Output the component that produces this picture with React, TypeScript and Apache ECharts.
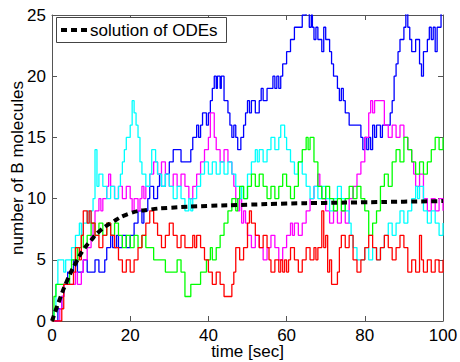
import React, { useEffect, useRef } from "react";
import * as echarts from "echarts";

// Stochastic trajectories: [time, value] change points (value holds until next point)
const blueRun: number[][] = [
  [0,0],[1.5,1],[2.5,2],[3,3],[4,4],[5.5,5],[6.5,4],[8,5],[9,4],[11,5],[12,4],[13.5,5],[14,6],[15,7],[15.5,6],[16.5,7],[17,6],[18,7],[19,6],[20,7],[21,8],[22,9],[23,8],[23.5,9],[24.5,10],[25,11],[26,10],[27,11],[27.5,12],[28,11],[29,12],[30,13],[31,14],[33,13],[35.5,14],[36,15],[37,16],[37.5,15],[38,16],[38.5,17],[39.5,16],[40,17],[40.5,18],[41,19],[41.5,20],[42,19],[42.3,20],[43,19],[43.3,20],[44,18],[45,17],[45.5,16],[46,15],[46.5,16],[47,15],[47.5,14],[48.3,15],[49,16],[49.5,17],[50,18],[50.5,17],[51,18],[52,17],[53,18],[53.5,19],[54,18],[55,19],[56.5,20],[57,19],[57.5,20],[58,19],[58.5,20],[59,21],[60,22],[61,23],[62,24],[63,24],[64,25],[65,26],[65.8,24],[66.3,25],[66.6,24],[67,23],[67.5,24],[68,23],[69,22],[69.5,24],[70,23],[71,22],[71.5,21],[72,20],[73,19],[73.5,18],[74,19],[74.5,18],[75,17],[76,16],[77.5,16],[78.5,16],[79,15],[79.5,14],[80,15],[80.5,14],[81,15],[81.5,14],[82,16],[82.5,15],[83,16],[84,15],[84.5,16],[86.5,17],[87,18],[87.5,20],[88,21],[88.5,22],[89,23],[90,24],[90.5,26],[91,24],[91.5,23],[92,22],[93,23],[94,21],[94.5,20],[95,22],[96,23],[96.5,24],[97,23],[97.5,24],[98,22],[98.5,24],[99.5,26],[100,26]
];
const magentaRun: number[][] = [
  [0,0],[2,1],[2.5,2],[3,3],[5,3],[6,4],[6.5,3],[7.5,4],[8,5],[9,6],[10,7],[10.5,8],[11,9],[12,10],[12.5,9],[13,10],[14,11],[14.5,12],[15,11],[16,10],[17,11],[18,10],[19,11],[20,10],[20.5,9],[21,10],[22,9],[22.5,10],[23,11],[23.5,10],[24,11],[25,12],[26,13],[27,12],[28,13],[29,12],[30,11],[31,12],[32,11],[33,12],[34,11],[35,10],[36,11],[37,12],[38,13],[39,14],[40,15],[40.5,17],[41.5,15],[42,14],[43,13],[44,14],[45,13],[46,12],[46.5,11],[47,10],[47.5,9],[48,10],[48.5,8],[49,9],[49.5,8],[50,7],[51,6],[52,7],[53,6],[54,5],[55,6],[56,7],[57,6],[58,5],[59,6],[60,7],[61,8],[61.5,7],[62,8],[63,7],[64,8],[65,9],[66,10],[67,11],[68,12],[68.5,11],[69,10],[70,9],[71,8],[72,9],[73,8],[74,9],[75,8],[76,10],[77,11],[78,12],[79,13],[80,15],[81,17],[81.5,18],[82,17],[82.5,18],[85,16],[86,15],[87,16],[88,15],[89,16],[90,15],[91,14],[92,13],[92.5,12],[93,11],[94,12],[95,10],[96,9],[97,10],[98,9],[99,10],[100,9]
];
const cyanRun: number[][] = [
  [0,0],[0.5,1],[1,3],[1.5,5],[3,4],[3.5,5],[5,6],[6,7],[7,8],[7.5,7],[8,8],[9,9],[9.5,8],[10,9],[10.5,10],[11,14],[11.5,11],[12,12],[13,11],[14,10],[15,11],[16,10],[17,11],[17.5,12],[18,13],[18.5,14],[19,15],[20,16],[20.5,18],[21,17],[21.5,16],[22,15],[22.5,13],[23,12],[24,11],[25,12],[25.5,14],[26.5,13],[27,12],[28,11],[29,12],[30,11],[31,10],[32,11],[33,10],[34,9],[35,10],[35.5,9],[36,10],[37,11],[38,12],[39,13],[40,12],[41,13],[42,12],[43,13],[44,12],[45,13],[46,12],[47,11],[48,10],[48.5,11],[49,10],[50,12],[51,13],[52,14],[52.5,13],[53,14],[54,13],[55,14],[56,15],[57,14],[58,15],[58.5,16],[59.5,15],[60,14],[61,13],[62,12],[63,13],[64,12],[65,11],[66,10],[67,11],[68,10],[69,11],[70,10],[71,9],[72,10],[73,11],[74,10],[75,9],[76,8],[76.5,7],[77,6],[78,5],[80,6],[81,5],[82,6],[83,5],[84,6],[85,7],[86,8],[87,7],[88,8],[89,9],[90,8],[91,9],[92,10],[93,11],[93.5,10],[94,11],[95,9],[96,8],[97,9],[98,8],[99,7],[100,8]
];
const greenRun: number[][] = [
  [0,0],[0.5,2],[1,3],[4,3],[4.5,4],[5,5],[6,6],[6.5,5],[7,6],[7.5,7],[8,6],[9,7],[10,8],[11,7],[12,8],[13,7],[14,8],[15,7],[16,8],[17,7],[18,6],[19,7],[20,6],[21,7],[22,6],[23,7],[24,6],[25,6],[26,5],[29,4],[32,5],[33,4],[34,2],[35.5,3],[38,4],[39.5,5],[40.5,6],[41,5],[42,6],[43,7],[44,8],[45,9],[46,10],[47,9],[47.5,10],[48,11],[49,10],[50,11],[51,12],[52,11],[53,12],[54,11],[55,10],[56,11],[57,10],[58,11],[59,12],[60,11],[61,10],[62,11],[63,13],[64,14],[65,15],[65.5,14],[66,15],[67,13],[68,11],[69,10],[70,11],[71,10],[72,9],[73,10],[74,9],[75,10],[76,11],[77,10],[78,11],[79,10],[80,9],[81,7],[82,8],[83,9],[84,11],[85,12],[86,11],[87,13],[88,14],[89,13],[90,15],[91,14],[92,13],[93,12],[94,13],[95,12],[96,13],[97,14],[98,15],[99,14],[100,15]
];
const redRun: number[][] = [
  [0,0],[2.5,1],[3,3],[5,3],[5.5,4],[6,6],[7,5],[7.5,7],[8,9],[9,8],[9.5,9],[10,8],[11,7],[12,6],[13,7],[14,8],[15,7],[16,6],[17,5],[18,4],[19,5],[20,4],[21,5],[22,6],[23,7],[24,8],[25,9],[26,8],[27,7],[28,6],[29,7],[30,8],[31,7],[32,6],[33,7],[34,6],[36,7],[36.5,6],[37,7],[38,6],[39,5],[40,4],[41,3],[42,4],[43,3],[44,2],[46,3],[46.5,4],[47,6],[48,5],[49,6],[50,8],[50.5,9],[51,8],[52,7],[53,6],[54,7],[55,6],[55.5,5],[56,4],[57,5],[58,4],[58.5,5],[59,4],[59.5,5],[60,4],[60.5,5],[61,6],[62,5],[63,4],[64,5],[65,6],[66,5],[67,6],[67.5,5],[68,6],[69,9],[69.5,6],[70,7],[70.5,4],[71,5],[71.5,3],[73,4],[73.5,6],[74,7],[75,6],[76,7],[77,5],[78,4],[79,5],[80,6],[81,7],[82,6],[83,5],[84,6],[85,7],[86,6],[87,5],[88,6],[89,7],[90,6],[91,4],[92,5],[93,4],[94,7],[94.5,5],[95,4],[96,5],[97,4],[98,5],[99,4],[100,5]
];
// Deterministic solution
const odeTimes = [0, 2, 4, 6, 8, 10, 12, 15, 20, 25, 30, 40, 50, 60, 70, 80, 90, 100];
const odeValues = [0, 1.8, 3.4, 4.7, 5.8, 6.6, 7.3, 8.0, 8.8, 9.1, 9.25, 9.4, 9.5, 9.6, 9.65, 9.7, 9.75, 9.8];
const odeLabel = "solution of ODEs";

const xTicks = [0, 20, 40, 60, 80, 100];
const yTicks = [0, 5, 10, 15, 20, 25];

const FONT = "Liberation Sans";
const FS = 17;

export default function App() {
  const ref = useRef<HTMLDivElement>(null);
  useEffect(() => {
    if (!ref.current) return;
    const chart = echarts.init(ref.current, undefined, { renderer: "svg" });
    const axisColor = "#555";
    const xBase = {
      type: "value" as const,
      min: xTicks[0],
      max: xTicks[xTicks.length - 1],
      interval: 20,
      splitLine: { show: false },
      axisLine: { show: true, onZero: false, lineStyle: { color: axisColor, width: 1 } },
      axisTick: { show: true, inside: true, length: 5, lineStyle: { color: axisColor } },
    };
    const yBase = {
      type: "value" as const,
      min: yTicks[0],
      max: yTicks[yTicks.length - 1],
      interval: 5,
      splitLine: { show: false },
      axisLine: { show: true, onZero: false, lineStyle: { color: axisColor, width: 1 } },
      axisTick: { show: true, inside: true, length: 5, lineStyle: { color: axisColor } },
    };
    const stepSeries = (data: number[][], color: string, z: number) => ({
      type: "line" as const,
      data,
      step: "end" as const,
      showSymbol: false,
      symbol: "none",
      lineStyle: { color, width: 1.3 },
      itemStyle: { color },
      z,
      silent: true,
    });
    chart.setOption({
      animation: false,
      backgroundColor: "#fff",
      textStyle: { fontFamily: FONT },
      grid: { left: 52, right: 17, top: 15, bottom: 41, containLabel: false, outerBoundsMode: "none" },
      graphic: [
        {
          type: "group",
          z: 100,
          children: [
            {
              type: "rect",
              shape: { x: 56.5, y: 17.5, width: 170, height: 25 },
              style: { fill: "#fff", stroke: "#444", lineWidth: 1 },
              z: 100,
            },
            {
              type: "line",
              shape: { x1: 61, y1: 30, x2: 89, y2: 30 },
              style: { stroke: "#000", lineWidth: 4, lineDash: [6, 4], lineCap: "butt" },
              z: 101,
            },
            {
              type: "text",
              x: 90,
              y: 30,
              style: {
                text: odeLabel,
                fontFamily: FONT,
                fontSize: FS,
                fill: "#000",
                verticalAlign: "middle",
                align: "left",
              },
              z: 101,
            },
          ],
        },
      ],
      xAxis: [
        {
          ...xBase,
          position: "bottom",
          name: "time [sec]",
          nameLocation: "middle",
          nameGap: 22,
          nameMoveOverlap: false,
          nameTextStyle: { fontFamily: FONT, fontSize: FS, color: "#000" },
          axisLabel: { show: true, fontFamily: FONT, fontSize: FS, color: "#000", margin: 6 },
        },
        { ...xBase, position: "top", axisLabel: { show: false } },
      ],
      yAxis: [
        {
          ...yBase,
          position: "left",
          name: "number of B molecules",
          nameLocation: "middle",
          nameGap: 26,
          nameMoveOverlap: false,
          nameTextStyle: { fontFamily: FONT, fontSize: FS, color: "#000" },
          axisLabel: { show: true, fontFamily: FONT, fontSize: FS, color: "#000", margin: 6 },
        },
        { ...yBase, position: "right", axisLabel: { show: false } },
      ],
      series: [
        stepSeries(blueRun, "#0000ff", 2),
        stepSeries(magentaRun, "#ff00ff", 3),
        stepSeries(cyanRun, "#00ffff", 4),
        stepSeries(greenRun, "#00ff00", 5),
        stepSeries(redRun, "#ff0000", 6),
        {
          name: odeLabel,
          type: "line",
          data: odeTimes.map((t, i) => [t, odeValues[i]]),
          smooth: true,
          showSymbol: false,
          symbol: "none",
          lineStyle: { color: "#000", width: 4, type: [6, 4], cap: "butt" },
          itemStyle: { color: "#000" },
          z: 10,
        },
      ],
    });
    return () => chart.dispose();
  }, []);
  return <div ref={ref} style={{ width: 460, height: 362, position: "absolute", left: 0, top: 0 }} />;
}
